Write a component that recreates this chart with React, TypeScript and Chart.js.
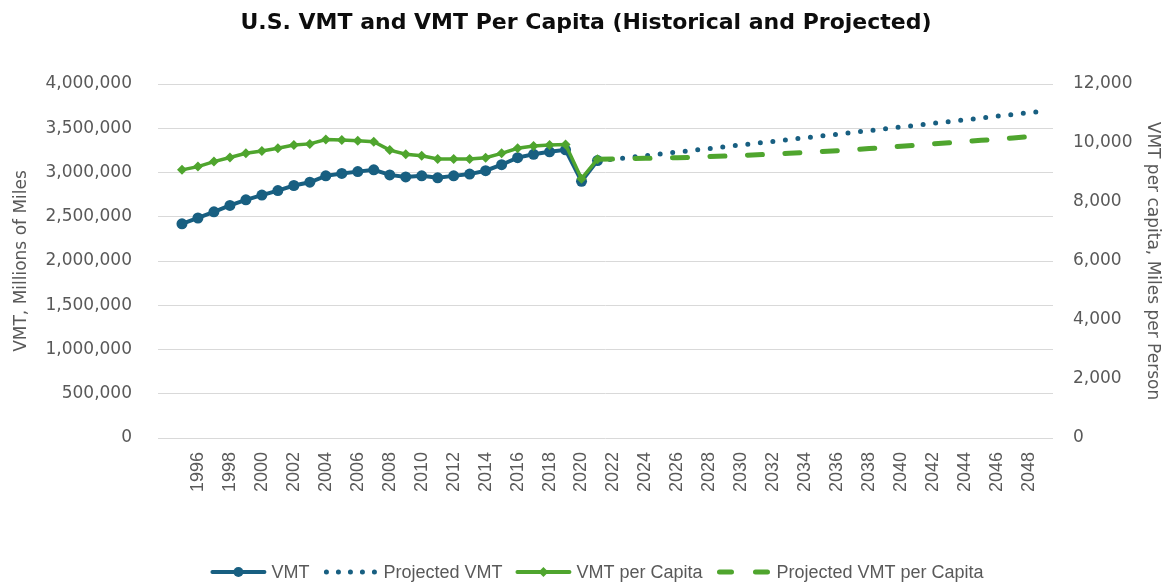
import React, { useEffect, useRef } from "react";
import { Chart, registerables } from "chart.js";

Chart.register(...registerables);

// Category axis: a blank first slot, then 1995..2049
const years: string[] = [
  "", "1995", "1996", "1997", "1998", "1999", "2000", "2001", "2002", "2003", "2004",
  "2005", "2006", "2007", "2008", "2009", "2010", "2011", "2012", "2013", "2014",
  "2015", "2016", "2017", "2018", "2019", "2020", "2021", "2022", "2023", "2024",
  "2025", "2026", "2027", "2028", "2029", "2030", "2031", "2032", "2033", "2034",
  "2035", "2036", "2037", "2038", "2039", "2040", "2041", "2042", "2043", "2044",
  "2045", "2046", "2047", "2048", "2049",
];

// Historical 1995..2021
const vmtHistorical: number[] = [
  2420000, 2486000, 2556000, 2628000, 2691000, 2745000, 2796000, 2853000, 2890000, 2962000,
  2989000, 3010000, 3030000, 2973000, 2950000, 2962000, 2940000, 2962000, 2982000, 3020000,
  3088000, 3168000, 3206000, 3234000, 3256000, 2900000, 3135000,
];
const perCapitaHistorical: number[] = [
  9090, 9200, 9370, 9510, 9650, 9730, 9820, 9930, 9970, 10120,
  10100, 10080, 10040, 9760, 9620, 9570, 9460, 9460, 9460, 9500,
  9650, 9820, 9900, 9930, 9950, 8790, 9450,
];

// Projected 2021..2049
const vmtProjected: number[] = [
  3135000, 3150000, 3170000, 3190000, 3211000, 3231000, 3251000, 3271000, 3292000, 3312000,
  3332000, 3352000, 3373000, 3393000, 3413000, 3433000, 3454000, 3474000, 3494000, 3514000,
  3535000, 3555000, 3575000, 3595000, 3616000, 3636000, 3656000, 3676000, 3697000,
];
const perCapitaProjected: number[] = [
  9450, 9460, 9470, 9480, 9490, 9500, 9520, 9540, 9560, 9580,
  9600, 9620, 9650, 9680, 9710, 9740, 9770, 9810, 9850, 9890,
  9930, 9970, 10010, 10050, 10090, 10130, 10170, 10220, 10270,
];

const seriesLabels: string[] = ["VMT", "Projected VMT", "VMT per Capita", "Projected VMT per Capita"];

const BLUE = "#185f81";
const GREEN = "#4fa52e";
const GREY_TEXT = "#595959";

function padSeries(values: number[], startIndex: number): (number | null)[] {
  const out: (number | null)[] = years.map(() => null);
  values.forEach((v, i) => {
    out[startIndex + i] = v;
  });
  return out;
}

function drawIcon(ctx: CanvasRenderingContext2D, kind: number, x: number, y: number) {
  ctx.save();
  ctx.lineCap = "round";
  if (kind === 0 || kind === 2) {
    const col = kind === 0 ? BLUE : GREEN;
    ctx.strokeStyle = col;
    ctx.lineWidth = 4;
    ctx.beginPath();
    ctx.moveTo(x + 2, y);
    ctx.lineTo(x + 54, y);
    ctx.stroke();
    ctx.fillStyle = col;
    ctx.beginPath();
    if (kind === 0) {
      ctx.arc(x + 28, y, 5, 0, Math.PI * 2);
    } else {
      ctx.moveTo(x + 28, y - 5);
      ctx.lineTo(x + 33, y);
      ctx.lineTo(x + 28, y + 5);
      ctx.lineTo(x + 23, y);
      ctx.closePath();
    }
    ctx.fill();
  } else if (kind === 1) {
    ctx.fillStyle = BLUE;
    for (let i = 0; i < 5; i++) {
      ctx.beginPath();
      ctx.arc(x + 4 + i * 12, y, 2.5, 0, Math.PI * 2);
      ctx.fill();
    }
  } else {
    ctx.strokeStyle = GREEN;
    ctx.lineWidth = 5;
    ctx.beginPath();
    ctx.moveTo(x + 4, y);
    ctx.lineTo(x + 16, y);
    ctx.moveTo(x + 40, y);
    ctx.lineTo(x + 52, y);
    ctx.stroke();
  }
  ctx.restore();
}

const legendPlugin = {
  id: "excelLegend",
  afterDraw(chart: any) {
    const ctx: CanvasRenderingContext2D = chart.ctx;
    ctx.save();
    ctx.font = "18px 'Liberation Sans Narrow', 'Liberation Sans', sans-serif";
    ctx.textBaseline = "middle";
    ctx.textAlign = "left";
    const iconW = 56;
    const textGap = 5;
    const itemGap = 13;
    const widths = chart.data.datasets.map((ds: any) => iconW + textGap + ctx.measureText(ds.label).width);
    const total = widths.reduce((a: number, b: number) => a + b, 0) + itemGap * (widths.length - 1);
    let x = 597 - total / 2;
    const y = 572;
    chart.data.datasets.forEach((ds: any, i: number) => {
      drawIcon(ctx, i, x, y);
      ctx.fillStyle = GREY_TEXT;
      ctx.fillText(ds.label, x + iconW + textGap, y + 1);
      x += widths[i] + itemGap;
    });
    ctx.restore();
  },
};

export default function App() {
  const canvasRef = useRef<HTMLCanvasElement | null>(null);

  useEffect(() => {
    if (!canvasRef.current) return;
    const tickFont = { family: "'DejaVu Sans', sans-serif", size: 17 };

    const chart = new Chart(canvasRef.current, {
      type: "line",
      data: {
        labels: years,
        datasets: [
          {
            label: seriesLabels[0],
            data: padSeries(vmtHistorical, 1),
            yAxisID: "y",
            borderColor: BLUE,
            backgroundColor: BLUE,
            borderWidth: 4,
            pointStyle: "circle",
            pointRadius: 5.5,
            pointBorderWidth: 0,
            pointBackgroundColor: BLUE,
            order: 2,
          },
          {
            label: seriesLabels[1],
            data: padSeries(vmtProjected, 27),
            yAxisID: "y",
            borderColor: BLUE,
            borderWidth: 5,
            borderDash: [0, 12.6],
            borderCapStyle: "round",
            pointRadius: 0,
            order: 3,
          },
          {
            label: seriesLabels[2],
            data: padSeries(perCapitaHistorical, 1),
            yAxisID: "y1",
            borderColor: GREEN,
            backgroundColor: GREEN,
            borderWidth: 3.5,
            pointStyle: "rectRot",
            pointRadius: 5,
            pointBorderWidth: 0,
            pointBackgroundColor: GREEN,
            order: 0,
          },
          {
            label: seriesLabels[3],
            data: padSeries(perCapitaProjected, 27),
            yAxisID: "y1",
            borderColor: GREEN,
            borderWidth: 5,
            borderDash: [15, 22.5],
            borderCapStyle: "round",
            pointRadius: 0,
            order: 1,
          },
        ],
      },
      options: {
        animation: false,
        responsive: false,
        maintainAspectRatio: false,
        layout: { padding: { left: 0, right: 0, top: 0, bottom: 0 } },
        plugins: {
          title: {
            display: true,
            text: "U.S. VMT and VMT Per Capita (Historical and Projected)",
            color: "#0d0d0d",
            font: { family: "'DejaVu Sans', sans-serif", size: 22, weight: "bold" },
            padding: { top: 10, bottom: 47.6 },
          },
          legend: { display: false },
          tooltip: { enabled: false },
        },
        scales: {
          x: {
            type: "category",
            offset: true,
            grid: { display: false },
            border: { display: false },
            ticks: {
              autoSkip: false,
              minRotation: 90,
              maxRotation: 90,
              padding: 6,
              color: GREY_TEXT,
              font: { family: "'Liberation Sans', Arial, sans-serif", size: 18 },
              callback: function (_v: any, index: number) {
                return index % 2 === 0 ? years[index] : "";
              },
            },
            afterFit: (scale: any) => {
              scale.height = 145;
            },
          },
          y: {
            position: "left",
            min: 0,
            max: 4000000,
            grid: { color: "#d9d9d9", lineWidth: 1, drawTicks: false },
            border: { display: false },
            ticks: {
              stepSize: 500000,
              padding: 26,
              color: GREY_TEXT,
              font: tickFont,
              callback: (v: any) => Number(v).toLocaleString("en-US"),
            },
            title: {
              display: true,
              text: "VMT, Millions of Miles",
              color: GREY_TEXT,
              font: { family: "'DejaVu Sans', sans-serif", size: 17 },
              padding: { top: 11, bottom: 0 },
            },
            afterFit: (scale: any) => {
              scale.width = 158;
            },
          },
          y1: {
            position: "right",
            min: 0,
            max: 12000,
            grid: { drawOnChartArea: false, drawTicks: false },
            border: { display: false },
            ticks: {
              stepSize: 2000,
              padding: 20,
              color: GREY_TEXT,
              font: tickFont,
              callback: (v: any) => Number(v).toLocaleString("en-US"),
            },
            title: {
              display: true,
              text: "VMT per capita, Miles per Person",
              color: GREY_TEXT,
              font: { family: "'DejaVu Sans', sans-serif", size: 17 },
              padding: { top: 9, bottom: 0 },
            },
            afterFit: (scale: any) => {
              scale.width = 119;
            },
          },
        },
      },
      plugins: [legendPlugin],
    } as any);

    return () => chart.destroy();
  }, []);

  return (
    <div style={{ position: "fixed", left: 0, top: 0, width: 1172, height: 583, background: "#ffffff" }}>
      <canvas ref={canvasRef} width={1172} height={583} style={{ display: "block" }} />
    </div>
  );
}
